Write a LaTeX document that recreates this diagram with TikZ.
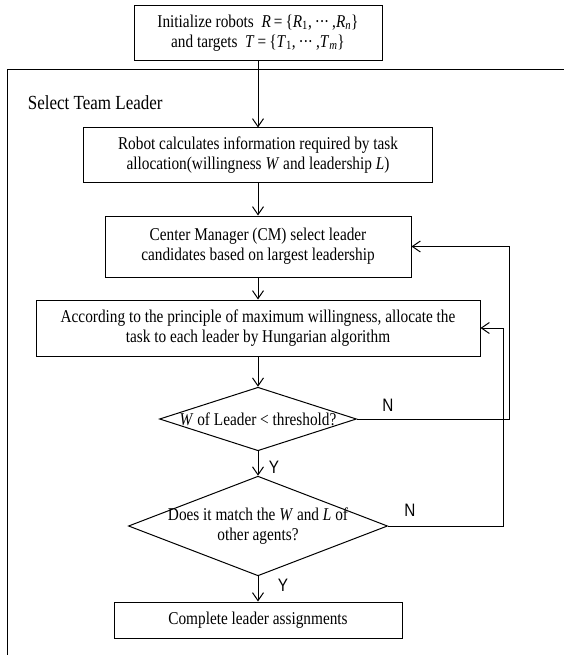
\documentclass[tikz,border=0pt]{standalone}
\usepackage{fontspec}
\setmainfont[FakeStretch=0.85]{Liberation Serif}
\newfontfamily\ynfont[FakeStretch=0.85]{Liberation Sans}
\usetikzlibrary{shapes.geometric,arrows.meta}

% variables in italics, as in the figure
\newcommand{\mv}[1]{\textit{#1}}
\newcommand{\dotsrow}{\textperiodcentered\kern-0.5pt\textperiodcentered\kern-0.5pt\textperiodcentered}

\begin{document}
\begin{tikzpicture}
[
    x=1pt,y=-1pt,
    line width=1pt,
    every node/.style={font=\fontsize{18}{20}\selectfont},
    stepbox/.style={draw, align=center, inner sep=0pt},
    decision/.style={draw, diamond, align=center, inner sep=0pt},
    flow/.style={-{Straight Barb[length=8pt,width=11pt]}},
    yn/.style={font=\ynfont\fontsize{18}{20}\selectfont}
]
\useasboundingbox (0,0) rectangle (564,655);

% Team leader frame
\draw (7,655) -- (7,70) -- (564,70);
\node
[
    anchor=west,
    font=\fontsize{20}{24}\selectfont
] (title) at (24,103) {Select Team Leader};

% Flow boxes
\node[stepbox, minimum width=248pt, minimum height=55pt] (init) at (258,33)
    {Initialize robots \ \mv{R}\,=\,\{\mv{R}\textsubscript{1},\,\dotsrow\,,\mv{R}\textsubscript{\mv{n}}\}\\
     and targets \ \mv{T}\,=\,\{\mv{T}\textsubscript{1},\,\dotsrow\,,\mv{T}\textsubscript{\mv{m}}\}};
\node[stepbox, minimum width=349pt, minimum height=54pt] (info) at (258,155)
    {Robot calculates information required by task\\
     allocation(willingness \mv{W} and leadership \mv{L})};
\node[stepbox, minimum width=306pt, minimum height=61pt] (cand) at (258,246.5)
    {Center Manager (CM) select leader\\
     candidates based on largest leadership};
\node[stepbox, minimum width=444pt, minimum height=56pt] (alloc) at (258,328)
    {According to the principle of maximum willingness, allocate the\\
     task to each leader by Hungarian algorithm};
\node[decision, minimum width=191pt, minimum height=62pt, shape aspect=3.1] (thr) at (258,419)
    {\mv{W} of Leader < threshold?};
\node[decision, minimum width=256pt, minimum height=98pt, shape aspect=2.6, inner xsep=-8pt] (match) at (258,526)
    {Does it match the \mv{W} and \mv{L} of\\ other agents?};
\node[stepbox, minimum width=288pt, minimum height=36pt] (done) at (258,620)
    {Complete leader assignments};

% Main arrows
\draw[flow] (init) -- (info);
\draw[flow] (info) -- (cand);
\draw[flow] (cand) -- (alloc);
\draw[flow] (alloc) -- (thr);
\draw[flow] (thr) -- (match);
\draw[flow] (match) -- (done);

% Loops back
\coordinate (loopA) at (509,0);
\coordinate (loopB) at (503,0);
\draw[flow] (thr.east) -- (thr.east -| loopA) |- (cand.east);
\draw[flow] (match.east) -- (match.east -| loopB) |- (alloc.east);

% Branch labels
\node[yn] (n1) at (388,405) {N};
\node[yn] (n2) at (410,510) {N};
\node[yn] (y1) at (274,467) {Y};
\node[yn] (y2) at (283,585) {Y};
\end{tikzpicture}
\end{document}
